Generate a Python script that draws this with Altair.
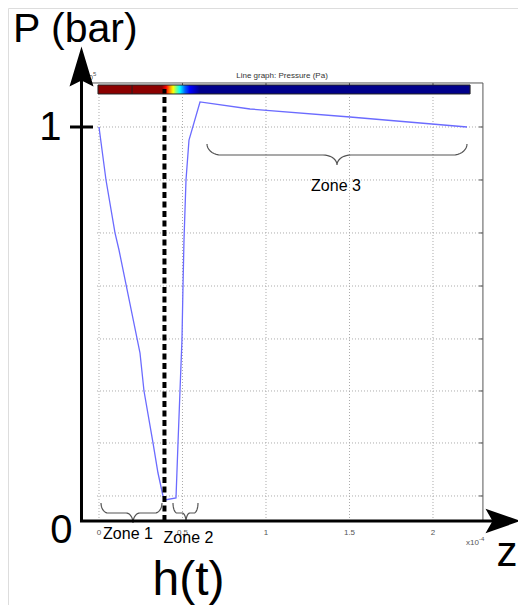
import altair as alt
import pandas as pd
import numpy as np

# ---------------- data ----------------
z_vals = [0.0, 0.0419, 0.0958, 0.1198, 0.2455, 0.2695, 0.3234, 0.3533, 0.3832,
          0.3952, 0.4611, 0.4731, 0.4850, 0.4970, 0.5030, 0.5090, 0.5210, 0.5389,
          0.6048, 0.9042, 1.5030, 2.2036]
p_vals = [1.0, 0.8655, 0.7310, 0.6878, 0.4264, 0.3299, 0.1980, 0.1218, 0.0635,
          0.0533, 0.0584, 0.1980, 0.3299, 0.4619, 0.5964, 0.7132, 0.8655, 0.9670,
          1.0635, 1.0457, 1.0254, 1.0]
x_ticks = [0, 0.5, 1, 1.5, 2]
x_tick_labels = ["0", "0.5", "1", "1.5", "2"]
y_grid = [0.0635, 0.198, 0.33, 0.462, 0.5964, 0.731, 0.8655, 1.0]

# plot geometry (data units)
W, H = 510, 597
XD = [-0.5449, 2.5090]
YD = [-0.2132, 1.3020]
xs = alt.Scale(domain=XD, nice=False, zero=False)
ys = alt.Scale(domain=YD, nice=False, zero=False)

FRAME_L, FRAME_R = -0.012, 2.299
FRAME_T = 1.1117
CB_L, CB_R, CB_B, CB_T = -0.006, 2.222, 1.0838, 1.1066


def px2x(px):
    return (px - 99) / 167.0


def px2y(py):
    return (521 - py) / 394.0


def X(f="x"):
    return alt.X(f + ":Q", scale=xs, axis=None)


def Y(f="y"):
    return alt.Y(f + ":Q", scale=ys, axis=None)


def segs(rows, color, width, dash=None):
    df = pd.DataFrame(rows, columns=["x", "x2", "y", "y2"])
    kw = dict(color=color, strokeWidth=width)
    if dash:
        kw["strokeDash"] = dash
    return alt.Chart(df).mark_rule(**kw).encode(
        x=X(), x2="x2:Q", y=Y(), y2="y2:Q")


def text(x, y, t, size, align="center", color="black", baseline="alphabetic"):
    df = pd.DataFrame({"x": [x], "y": [y], "t": [t]})
    return alt.Chart(df).mark_text(
        font="Liberation Sans", fontSize=size, align=align, baseline=baseline,
        color=color).encode(x=X(), y=Y(), text="t:N")


# ---------------- layers ----------------
# grid
vgrid = segs([[v, v, 0, 1.081] for v in x_ticks], "#aaaaaa", 1, [1, 2])
hgrid = segs([[FRAME_L, FRAME_R, v, v] for v in y_grid], "#aaaaaa", 1, [1, 2])

# frame
frame = segs([[px2x(88), FRAME_R, FRAME_T, FRAME_T],
              [FRAME_R, FRAME_R, 0, FRAME_T]], "#555555", 1)
top_ticks = segs([[v, v, FRAME_T, FRAME_T - 0.010] for v in x_ticks[1:]], "#555555", 1)
right_ticks = segs([[FRAME_R, FRAME_R - 0.024, v, v] for v in y_grid], "#555555", 1)

# colorbar
stops = [(0.0, "#8b0000"), (0.172, "#8b0000"), (0.183, "#ff0000"), (0.194, "#ff9900"),
         (0.202, "#ffff00"), (0.210, "#80ff80"), (0.220, "#00ffff"), (0.234, "#0060ff"),
         (0.247, "#0000ff"), (0.274, "#00008b"), (1.0, "#00008b")]
grad = alt.LinearGradient(
    gradient="linear", x1=0, x2=1, y1=0, y2=0,
    stops=[alt.GradientStop(offset=o, color=c) for o, c in stops])
cb_df = pd.DataFrame({"x": [CB_L], "x2": [CB_R], "y": [CB_B], "y2": [CB_T]})
colorbar = alt.Chart(cb_df).mark_rect(color=grad, stroke="#222222", strokeWidth=1).encode(
    x=X(), x2="x2:Q", y=Y(), y2="y2:Q")
cb_div = segs([[0.198, 0.198, CB_B, CB_T]], "#222222", 1)

# pressure curve
curve_df = pd.DataFrame({"z": z_vals, "p": p_vals, "i": range(len(z_vals))})
curve = alt.Chart(curve_df).mark_line(color="#6b6bff", strokeWidth=1.3).encode(
    x=X("z"), y=Y("p"), order="i:Q")

# dashed h(t) line
dashed = segs([[0.392, 0.392, 0, px2y(89)]], "black", 4, [6, 3.5])


# braces
def brace(x0, x1, xc, ytop, ymid, ytip, rx, ry, name):
    pts = []
    t = np.linspace(np.pi, np.pi / 2, 10)
    pts += list(zip(x0 + rx + rx * np.cos(t), ytop + ry * np.sin(t)))
    t = np.linspace(-np.pi / 2, 0, 10)
    pts += list(zip(xc - rx + rx * np.cos(t), ytip + (ytip - ymid) * np.sin(t)))
    t = np.linspace(np.pi, 3 * np.pi / 2, 10)
    pts += list(zip(xc + rx + rx * np.cos(t), ytip + (ytip - ymid) * np.sin(t)))
    t = np.linspace(np.pi / 2, 0, 10)
    pts += list(zip(x1 - rx + rx * np.cos(t), ytop + ry * np.sin(t)))
    return [{"x": px2x(a), "y": px2y(b), "i": k, "b": name} for k, (a, b) in enumerate(pts)]


brace_rows = (brace(101, 162, 133, 503, 513, 523, 7, 10, "z1")
              + brace(173, 198, 186, 503, 513, 522, 4, 10, "z2")
              + brace(207, 467, 337, 144, 155, 165, 14, 11, "z3"))
braces = alt.Chart(pd.DataFrame(brace_rows)).mark_line(
    color="#555555", strokeWidth=1.2).encode(x=X(), y=Y(), order="i:Q", detail="b:N")

# small texts
tick_df = pd.DataFrame({"x": x_ticks, "t": x_tick_labels, "y": [px2y(533)] * len(x_ticks)})
tick_text = alt.Chart(tick_df).mark_text(
    font="Liberation Sans", fontSize=8, color="#555555").encode(x=X(), y=Y(), text="t:N")

texts = [
    text(px2x(282), px2y(78), "Line graph: Pressure (Pa)", 8, color="#333333"),
    text(px2x(93), px2y(80), "10", 8, align="right", color="#555555"),
    text(px2x(93), px2y(76), "5", 6, align="left", color="#555555"),
    text(px2x(479), px2y(545), "x10", 8, align="right", color="#555555"),
    text(px2x(479), px2y(541), "-4", 6, align="left", color="#555555"),
    text(px2x(128), px2y(539), "Zone 1", 16),
    text(px2x(188.5), px2y(543), "Zone 2", 16),
    text(px2x(336), px2y(191), "Zone 3", 16),
]

# composite axes (arrows)
axes = segs([[px2x(81.5), px2x(81.5), px2y(522), px2y(62)],
             [px2x(80), px2x(500), 0, 0],
             [px2x(70), px2x(93), 1.0, 1.0]], "black", 3)
vhead = alt.Chart(pd.DataFrame({"x": [px2x(81.5)], "y": [px2y(66.5)]})).mark_point(
    shape="M0,-1L0.6,1L0,0.7L-0.6,1Z", size=1600, filled=True, color="black",
    opacity=1, strokeWidth=0).encode(x=X(), y=Y())
hhead = alt.Chart(pd.DataFrame({"x": [px2x(503)], "y": [0.0]})).mark_point(
    shape="M1,0L-1,0.7L-0.6,0L-1,-0.7Z", size=1225, filled=True, color="black",
    opacity=1, strokeWidth=0).encode(x=X(), y=Y())

big = [
    text(px2x(13), px2y(42), "P (bar)", 41, align="left"),
    text(px2x(50.5), px2y(140), "1", 40),
    text(px2x(61.5), px2y(543), "0", 40),
    text(px2x(507), px2y(566), "z", 42),
    text(px2x(188.5), px2y(595), "h(t)", 48),
]

chart = alt.layer(
    vgrid, hgrid, frame, top_ticks, right_ticks, colorbar, cb_div, curve, braces,
    tick_text, *texts, dashed, axes, vhead, hhead, *big
).properties(
    width=W, height=H, padding=0, autosize=alt.AutoSizeParams(type="none")
).configure_view(stroke=None).configure(background="white")

chart.save("out.html", embed_options={"renderer": "svg", "actions": False})
